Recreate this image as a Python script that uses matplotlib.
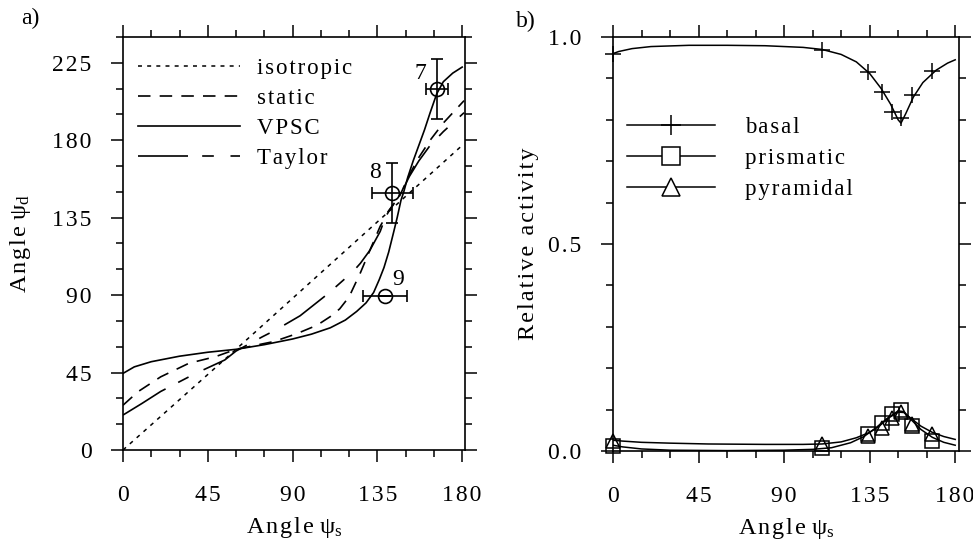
import matplotlib
matplotlib.use("Agg")
import matplotlib.pyplot as plt
from matplotlib.ticker import MultipleLocator
from matplotlib.lines import Line2D

plt.rcParams['font.family'] = ['Liberation Serif', 'DejaVu Serif']
plt.rcParams['font.size'] = 16

HS = '\u200a'


def spaced(s, sep=HS):
    return sep.join(s)


# ---- panel a: deformed vs. initial orientation angle ----
iso_x = [0, 60, 180]
iso_y = [0, 58.5, 177]

vpsc_x = [0, 6, 15, 30, 45, 60, 75, 90, 100, 110, 118, 124, 129, 133, 136,
          138.5, 141, 143.5, 145.5, 147.5, 149, 151, 154, 157, 160, 163, 166.5, 170, 175, 180]
vpsc_y = [44.5, 48.3, 51.3, 54.5, 56.8, 58.5, 61.2, 64.5, 67.3, 71, 75.5, 80.5, 85.5, 91.5, 99,
          106, 115, 126, 135, 145, 150, 158, 168, 177, 186, 196, 207, 214, 219, 222.5]

static_x = [0, 8, 20, 35, 49, 60, 80, 92, 103, 110, 115, 120, 126, 131, 136.5,
            141.5, 147, 152, 157, 163, 170, 181]
static_y = [26, 33.9, 42.5, 50.4, 54.2, 58.5, 63, 67.5, 72.5, 77.5, 82, 89, 103, 116, 130,
            139.5, 148, 160, 170, 180, 190, 203]

taylor_x = [0, 10, 20, 38, 54, 60, 74, 81, 94, 109, 122, 126, 131, 136.5, 140,
            147, 152, 157, 163, 170, 181]
taylor_y = [20.3, 27, 34, 44.2, 52.3, 57.5, 65.8, 69.7, 78, 91, 103.6, 108.5, 116, 127, 137.5,
            148, 159, 168, 177, 185, 196]

exp_x = [166.6, 143.0, 139.1]
exp_y = [209.6, 149.5, 89.5]
exp_xerr = [6.0, 11.0, 11.7]
exp_yerr = [17.4, 17.5, 0.0]
exp_labels = ['7', '8', '9']
exp_label_x = [157.7, 133.8, 146.2]
exp_label_y = [219, 161, 98.8]

# ---- panel b: relative slip-system activity ----
basal_curve_x = [0, 3, 10, 20, 40, 60, 80, 100, 110, 120, 128, 135, 141, 146, 150,
                 151.5, 154, 158, 163, 170, 176, 180]
basal_curve_y = [0.960, 0.965, 0.972, 0.977, 0.980, 0.980, 0.979, 0.975, 0.970, 0.958,
                 0.940, 0.912, 0.876, 0.838, 0.800, 0.792, 0.815, 0.855, 0.890, 0.920,
                 0.937, 0.945]

pyr_curve_x = [0, 5, 15, 30, 50, 80, 100, 110, 120, 128, 135, 140, 145, 150, 153,
               157, 162, 168, 174, 180]
pyr_curve_y = [0.026, 0.024, 0.021, 0.019, 0.017, 0.016, 0.016, 0.017, 0.022, 0.032,
               0.045, 0.060, 0.080, 0.094, 0.093, 0.078, 0.060, 0.045, 0.035, 0.028]

prism_curve_x = [0, 5, 15, 30, 60, 90, 105, 115, 125, 132, 138, 144, 150, 153, 157,
                 162, 168, 174, 180]
prism_curve_y = [0.014, 0.010, 0.005, 0.002, 0.001, 0.002, 0.004, 0.008, 0.020, 0.035,
                 0.055, 0.078, 0.097, 0.095, 0.075, 0.052, 0.033, 0.021, 0.014]

slip_x = [0, 110, 134, 141.5, 146.5, 151.5, 157.5, 168]
basal_pts = [0.960, 0.969, 0.916, 0.867, 0.820, 0.805, 0.860, 0.918]
prism_pts = [0.013, 0.007, 0.042, 0.067, 0.090, 0.098, 0.061, 0.025]
pyr_pts = [0.023, 0.017, 0.036, 0.055, 0.080, 0.095, 0.065, 0.040]

angle_ticks = [0, 45, 90, 135, 180]
psi_d_ticks = [0, 45, 90, 135, 180, 225]
activity_ticks = [0.0, 0.5, 1.0]

TICK_FS = 17
LABEL_FS = 17.5
LEG_FS = 16.5

fig = plt.figure(figsize=(9.73, 5.43), dpi=100)
ax1 = fig.add_axes([0.1264, 0.1713, 0.3515, 0.7606])
ax2 = fig.add_axes([0.6300, 0.1694, 0.3556, 0.7624])

K = 'black'

# panel a curves
ax1.plot(iso_x, iso_y, color=K, lw=1.1, dashes=(2.6, 3.4), label=spaced('isotropic'))
ax1.plot(static_x, static_y, color=K, lw=1.2, dashes=(7.5, 5.5), label=spaced('static'))
ax1.plot(vpsc_x, vpsc_y, color=K, lw=1.2, label=spaced('VPSC'))
ax1.plot(taylor_x, taylor_y, color=K, lw=1.2, dashes=(30, 8.5, 7, 10), label=spaced('Taylor'))

ax1.errorbar(exp_x, exp_y, xerr=exp_xerr, yerr=exp_yerr, fmt='o', ms=10, mfc='none',
             mec=K, mew=1.2, ecolor=K, elinewidth=1.2, capsize=4.5, capthick=1.2)
for lx, ly, t in zip(exp_label_x, exp_label_y, exp_labels):
    ax1.text(lx, ly, t, ha='center', va='center', fontsize=17)

ax1.set_xlim(0, 181.5)
ax1.set_ylim(0, 240)
ax1.set_xticks(angle_ticks, labels=[spaced(str(t)) for t in angle_ticks])
ax1.set_yticks(psi_d_ticks, labels=[spaced(str(t)) for t in psi_d_ticks])
ax1.xaxis.set_minor_locator(MultipleLocator(15))
ax1.yaxis.set_minor_locator(MultipleLocator(15))

ax1.legend(loc='upper left', bbox_to_anchor=(0.044, 0.948), frameon=False,
           borderaxespad=0, borderpad=0, handlelength=4.45, handletextpad=0.72,
           labelspacing=0.38, fontsize=LEG_FS)

ax1.set_xlabel(spaced('Angle') + ' ' + r'$\mathregular{\psi_s}$', fontsize=LABEL_FS)
ax1.set_ylabel(spaced('Angle') + ' ' + r'$\mathregular{\psi_d}$', fontsize=LABEL_FS)
ax1.xaxis.set_label_coords(0.5, -0.158)
ax1.yaxis.set_label_coords(-0.262, 0.5)

# panel b curves and markers
ax2.plot(basal_curve_x, basal_curve_y, color=K, lw=1.1)
ax2.plot(pyr_curve_x, pyr_curve_y, color=K, lw=1.1)
ax2.plot(prism_curve_x, prism_curve_y, color=K, lw=1.1)
ax2.plot(slip_x, basal_pts, ls='none', marker='+', ms=11, mew=1.1, color=K, clip_on=False)
ax2.plot(slip_x, prism_pts, ls='none', marker='s', ms=9.5, mew=1.1, mfc='none', mec=K, clip_on=False)
ax2.plot(slip_x, pyr_pts, ls='none', marker='^', ms=9.5, mew=1.1, mfc='none', mec=K, clip_on=False)

ax2.set_xlim(0, 182)
ax2.set_ylim(0, 1.0)
ax2.set_xticks(angle_ticks, labels=[spaced(str(t)) for t in angle_ticks])
ax2.set_yticks(activity_ticks, labels=[spaced(f'{t:.1f}') for t in activity_ticks])
ax2.xaxis.set_minor_locator(MultipleLocator(15))
ax2.yaxis.set_minor_locator(MultipleLocator(0.1))

handles = [
    Line2D([], [], color=K, lw=1.1, marker='+', ms=15, mew=1.1),
    Line2D([], [], color=K, lw=1.1, marker='s', ms=13.5, mew=1.1, mfc='white', mec=K),
    Line2D([], [], color=K, lw=1.1, marker='^', ms=13.5, mew=1.1, mfc='white', mec=K),
]
ax2.legend(handles, [spaced('basal'), spaced('prismatic'), spaced('pyramidal')],
           loc='upper left', bbox_to_anchor=(0.04, 0.806), frameon=False,
           borderaxespad=0, borderpad=0, handlelength=3.85, handletextpad=1.3,
           labelspacing=0.42, fontsize=LEG_FS, numpoints=1)

ax2.set_xlabel(spaced('Angle') + ' ' + r'$\mathregular{\psi_s}$', fontsize=LABEL_FS)
ax2.set_ylabel(spaced('Relative activity'), fontsize=LABEL_FS)
ax2.xaxis.set_label_coords(0.5, -0.156)
ax2.yaxis.set_label_coords(-0.215, 0.5)

for ax in (ax1, ax2):
    for sp in ax.spines.values():
        sp.set_linewidth(1.2)
    ax.tick_params(which='both', direction='out', top=True, right=True, width=1.1)
    ax.tick_params(which='major', length=8.5, pad=17, labelsize=TICK_FS)
    ax.tick_params(which='minor', length=5)
    ax.tick_params(axis='y', which='major', pad=14)

fig.text(30 / 973, 1 - 18 / 543, 'a)', ha='center', va='center', fontsize=17)
fig.text(526 / 973, 1 - 21 / 543, 'b)', ha='center', va='center', fontsize=17)

fig.savefig('out.png', dpi=100)
